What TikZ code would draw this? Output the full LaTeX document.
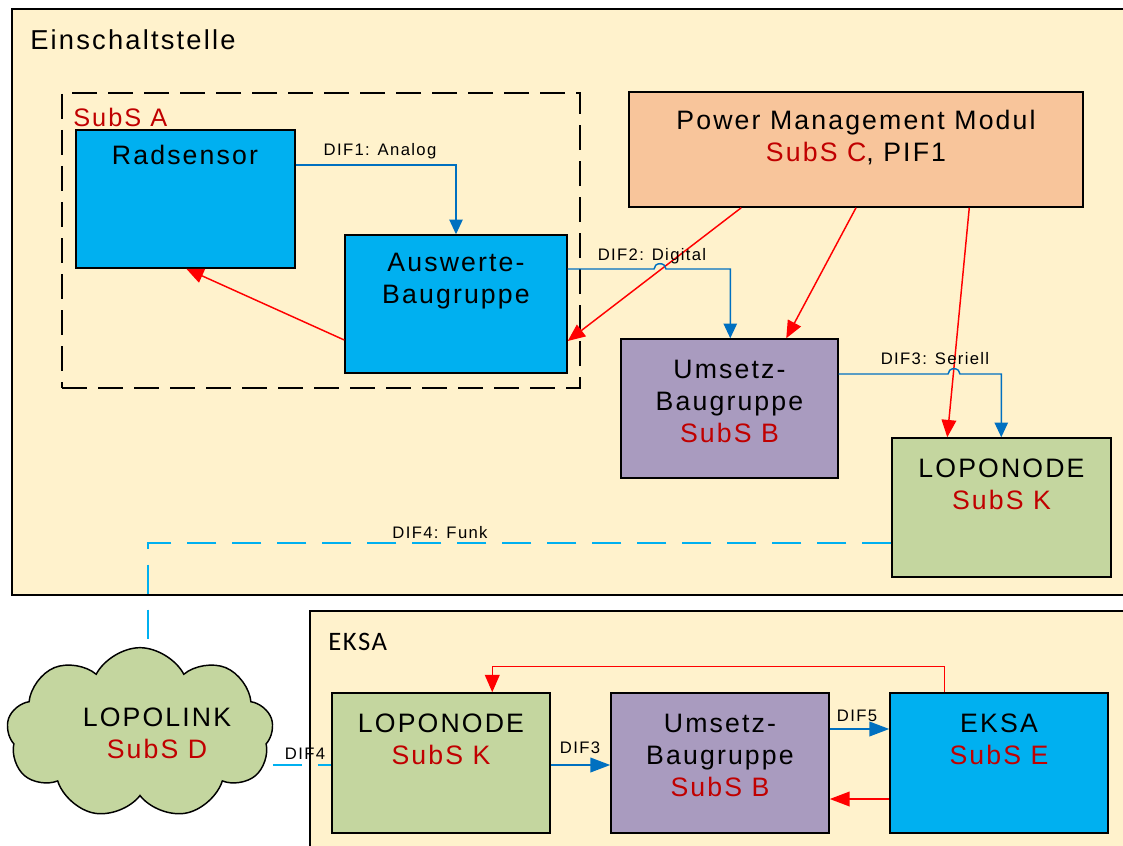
\documentclass[tikz,border=0pt]{standalone}
\usepackage{fontspec}
\setmainfont{Liberation Sans}[LetterSpace=8]
\newfontfamily\carlfont{Carlito}[LetterSpace=6]
\usetikzlibrary{arrows.meta,shapes.symbols,fit,calc}
\definecolor{cont}{HTML}{FFF2CC}
\definecolor{boxblue}{HTML}{00B0F0}
\definecolor{pmfill}{HTML}{F8C59B}
\definecolor{purp}{HTML}{A99BBF}
\definecolor{grn}{HTML}{C4D69F}
\definecolor{subsred}{HTML}{C00000}
\definecolor{arred}{HTML}{FF0000}
\definecolor{connblue}{HTML}{0070C0}
\definecolor{funkcyan}{HTML}{00B0F0}
\newcommand\sr[1]{\textcolor{subsred}{#1}}
\begin{document}
\begin{tikzpicture}[x=0.75pt,y=-0.75pt,
  container/.style={draw=black,line width=1.1pt,fill=cont,inner sep=0pt},
  dashbox/.style={draw=black,line width=1.1pt,dash pattern=on 19pt off 8pt,inner sep=0pt},
  box/.style={draw=black,line width=1.1pt,inner sep=0pt},
  big/.style={font=\fontsize{20}{24}\selectfont,align=center,inner sep=0pt},
  small/.style={font=\fontsize{12.5}{14}\selectfont,inner sep=0pt},
  bconn/.style={draw=connblue,line width=1.1pt,-{Triangle[length=11pt,width=10pt]}},
  bconnb/.style={draw=connblue,line width=1.4pt,-{Triangle[length=15pt,width=11pt]}},
  rconn/.style={draw=arred,line width=1.1pt,-{Triangle[length=13pt,width=11pt]}},
  rconnb/.style={draw=arred,line width=1.4pt,-{Triangle[length=15pt,width=11pt]}},
  funk/.style={draw=funkcyan,line width=1.1pt,dash pattern=on 21.75pt off 12pt},
]
\useasboundingbox (0,0) rectangle (1123,845);
\clip (0,0) rectangle (1123,845);
\fill[white] (0,0) rectangle (1123,845);

% containers
\node[container, fit={(12,9) (1140,595)}] (einsch) {};
\node[container, fit={(310,611) (1140,870)}] (eksaC) {};
\node[anchor=west,inner sep=0pt,font=\fontsize{20.5}{24}\selectfont] (einschT) at (30,40) {Einschaltstelle};
\node[anchor=west,inner sep=0pt,font=\carlfont\fontsize{20}{24}\selectfont] (eksaCT) at (328,642) {EKSA};

% SubS A
\node[dashbox, fit={(62,93) (580,388)}] (subsA) {};
\node[anchor=west,inner sep=0pt,font=\fontsize{19}{22}\selectfont,text=subsred] (subsAT) at (73,117) {SubS A};

% boxes
\node[box, fill=boxblue, fit={(76,130) (295,268)}] (rad) {};
\node[box, fill=boxblue, fit={(345,235) (567,373)}] (aus) {};
\node[box, fill=pmfill, fit={(629,92) (1083,207)}] (pm) {};
\node[box, fill=purp, fit={(621,339) (838,478)}] (ums) {};
\node[box, fill=grn, fit={(892,438) (1111,577)}] (lop) {};
\node[box, fill=grn, fit={(332,693) (550,833)}] (lop2) {};
\node[box, fill=purp, fit={(611,693) (829,833)}] (ums2) {};
\node[box, fill=boxblue, fit={(890,693) (1108,833)}] (eksa) {};
\node[cloud, cloud puffs=9, cloud puff arc=125, cloud ignores aspect, draw=black, line width=1.1pt, fill=grn,
      minimum width=200pt, minimum height=128pt] (cloud) at (140,733) {};

% box texts
\node[big] (cloudT) at (157,733) {LOPOLINK\\\sr{SubS D}};
\node[big] (radT) at (185,155) {Radsensor};
\node[big] (ausT) at (456,281) {Auswerte-\\Baugruppe};
\node[big] (pmT) at (856,138) {Power Management Modul\\\sr{SubS C}, PIF1};
\node[big] (umsT) at (729.5,401) {Umsetz-\\Baugruppe\\\sr{SubS B}};
\node[big] (lopT) at (1001.5,484) {LOPONODE\\\sr{SubS K}};
\node[big] (lop2T) at (441,739.5) {LOPONODE\\\sr{SubS K}};
\node[big] (ums2T) at (720,755.5) {Umsetz-\\Baugruppe\\\sr{SubS B}};
\node[big] (eksaT) at (999,739.5) {EKSA\\\sr{SubS E}};

% red connectors (top)
\draw[rconn] ([xshift=84.75pt]pm.south west) -- (aus.east |- 0,341);
\draw[rconn] (pm.south) -- ([xshift=124.5pt]ums.north west);
\draw[rconn] ([xshift=255.75pt]pm.south west) -- ([xshift=42pt]lop.north west);
\draw[rconn] (aus.west |- 0,340) -- ([xshift=83.25pt]rad.south west);

% blue connectors (top)
\draw[bconn] (rad.east |- 0,165) -| (aus.north);
\draw[bconn] (aus.east |- 0,269) -- (654,269) arc[start angle=180,end angle=0,x radius=4.5pt,y radius=4pt] -| ([xshift=82.5pt]ums.north west);
\draw[bconn] (ums.east |- 0,374) -- (948,374) arc[start angle=180,end angle=0,x radius=4.5pt,y radius=4pt] -| ([xshift=82.5pt]lop.north west);

% funk
\draw[funk] (lop.west |- 0,543) -| ([xshift=6pt]cloud.north);
\draw[funk] (cloud.east |- 0,765) -- (lop2.west |- 0,765);

% bottom connectors
\draw[bconnb] (lop2.east |- 0,765) -- (ums2.west |- 0,765);
\draw[bconnb] (ums2.east |- 0,729) -- (eksa.west |- 0,729);
\draw[rconnb] (eksa.west |- 0,799) -- (ums2.east |- 0,799);
\draw[rconn] ([xshift=41.25pt]eksa.north west) -- ++(0,-26) -| ([xshift=120.75pt]lop2.north west);

% labels
\node[small] (l1) at (380,151) {DIF1: Analog};
\node[small] (l2) at (652,256) {DIF2: Digital};
\node[small] (l3) at (935,359) {DIF3: Seriell};
\node[small] (l4) at (440,533) {DIF4: Funk};
\node[small] (l5) at (305,754) {DIF4};
\node[small] (l6) at (580,748) {DIF3};
\node[small] (l7) at (857,716) {DIF5};
\end{tikzpicture}
\end{document}
